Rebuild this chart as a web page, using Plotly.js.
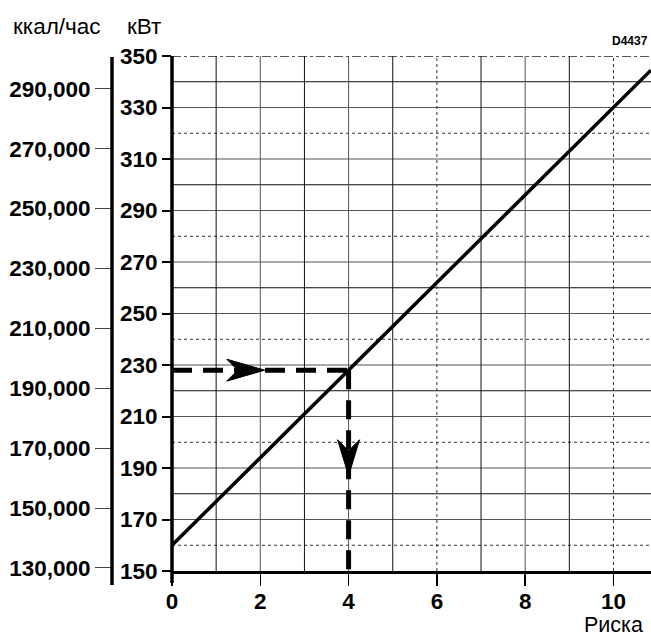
<!DOCTYPE html>
<html><head><meta charset="utf-8">
<script src="https://cdn.plot.ly/plotly-3.0.1.min.js"></script>
<style>html,body{margin:0;padding:0;background:#fff}</style>
</head><body><div id="chart" style="width:651px;height:637px"></div>
<script>
// ---- data ----
const risk = [0, 2, 4, 6, 8, 10, 10.85];
const powerKw = [160, 194, 228, 262, 296, 330, 344.5];
const readRisk = 4;
const readKw = 228;
const hArrowRisk = 2.1;   // tip of the right-pointing arrow
const vArrowKw = 187;     // tip of the down-pointing arrow
const kwTicks = [150, 170, 190, 210, 230, 250, 270, 290, 310, 330, 350];
const kcalTicks = [130000, 150000, 170000, 190000, 210000, 230000, 250000, 270000, 290000];
const kcalLabels = ['130,000', '150,000', '170,000', '190,000', '210,000', '230,000', '250,000', '270,000', '290,000'];
const riskTicks = [0, 2, 4, 6, 8, 10];
const kwGrid = [160, 170, 180, 190, 200, 210, 220, 230, 240, 250, 260, 270, 280, 290, 300, 310, 320, 330, 340];
const kwDotted = [160, 200, 240, 280, 320];
const riskGrid = [1, 2, 3, 4, 5, 6, 7, 8, 9, 10];
const riskDotted = [6, 10];
const KCAL_PER_KW = 859.845;

const W = 651, H = 637, T = 56, B = 66;
const PH = H - T - B;
const FONT = 'Liberation Sans, Arial, Helvetica, sans-serif';
const py = p => (H - B - p) / PH;   // pixel row -> paper y
const px = p => p / W;              // pixel col -> paper x
const x0px = 172;

const kwRange = [kwTicks[0], kwTicks[kwTicks.length - 1]];
const tickFont = {family: FONT, size: 22.5, color: '#000', weight: 'bold'};

const shapes = [];
kwGrid.forEach(v => {
  const dotted = kwDotted.includes(v);
  const labeled = kwTicks.includes(v);
  shapes.push({type: 'line', xref: 'paper', yref: 'y', x0: px(x0px), x1: 1, y0: v, y1: v,
    line: {color: dotted ? '#333' : (labeled ? '#555' : '#111'), width: 1, dash: dotted ? 'dot' : 'solid'}, layer: 'below'});
});
riskGrid.forEach(v => {
  const dotted = riskDotted.includes(v);
  const labeled = riskTicks.includes(v);
  shapes.push({type: 'line', xref: 'x', yref: 'paper', x0: v, x1: v, y0: 0, y1: 1,
    line: {color: dotted ? '#333' : (labeled ? '#555' : '#111'), width: 1, dash: dotted ? 'dot' : 'solid'}, layer: 'below'});
});
// top border (dash-dot)
shapes.push({type: 'line', xref: 'paper', yref: 'y', x0: px(x0px), x1: 1, y0: kwRange[1], y1: kwRange[1],
  line: {color: '#222', width: 1.5, dash: 'dashdot'}});
// kW axis line
shapes.push({type: 'line', xref: 'paper', yref: 'paper', x0: px(x0px), x1: px(x0px), y0: py(583), y1: py(56),
  line: {color: '#000', width: 3.5}});
// kcal axis line
shapes.push({type: 'line', xref: 'paper', yref: 'paper', x0: px(112), x1: px(112), y0: py(585), y1: py(57),
  line: {color: '#000', width: 3.5}});
// arrowheads (pixel-sized, anchored at data points)
shapes.push({type: 'path', xref: 'x', yref: 'y', xsizemode: 'pixel', ysizemode: 'pixel',
  xanchor: hArrowRisk, yanchor: readKw, path: 'M0,0 L-38,11 L-27,0 L-38,-11 Z',
  fillcolor: '#000', line: {color: '#000', width: 1}});
shapes.push({type: 'path', xref: 'x', yref: 'y', xsizemode: 'pixel', ysizemode: 'pixel',
  xanchor: readRisk, yanchor: vArrowKw, path: 'M0,0 L11,36 L0,25 L-11,36 Z',
  fillcolor: '#000', line: {color: '#000', width: 1}});

const traces = [
  {x: risk, y: powerKw, mode: 'lines', line: {color: '#000', width: 3.5}, hoverinfo: 'skip'},
  {x: [0, readRisk], y: [readKw, readKw], mode: 'lines', line: {color: '#000', width: 5, dash: '20px,11px'}, hoverinfo: 'skip'},
  {x: [readRisk, readRisk], y: [readKw, kwRange[0]], mode: 'lines', line: {color: '#000', width: 5, dash: '19px,11px'}, hoverinfo: 'skip'},
  {x: [0, 0], y: [kwRange[0] * KCAL_PER_KW, kwRange[1] * KCAL_PER_KW], yaxis: 'y2', mode: 'lines',
   line: {color: 'rgba(0,0,0,0)', width: 0}, hoverinfo: 'skip'}
];

const layout = {
  width: W, height: H,
  margin: {l: 0, r: 0, t: T, b: B, pad: 0},
  paper_bgcolor: '#fff', plot_bgcolor: '#fff',
  showlegend: false,
  xaxis: {domain: [px(x0px), 1], range: [0, 10.85], tickvals: riskTicks, ticks: 'outside', ticklen: 12,
    tickwidth: 1.5, tickcolor: '#000', showline: true, linewidth: 3, linecolor: '#000', ticklabelstandoff: -4,
    showgrid: false, zeroline: false, tickfont: tickFont, fixedrange: true},
  yaxis: {range: kwRange, tickvals: kwTicks, ticks: 'outside', ticklen: 9, tickwidth: 2, tickcolor: '#000',
    showline: false, showgrid: false, zeroline: false, tickfont: tickFont, fixedrange: true},
  yaxis2: {overlaying: 'y', anchor: 'free', position: px(112), side: 'left',
    range: [kwRange[0] * KCAL_PER_KW, kwRange[1] * KCAL_PER_KW],
    tickvals: kcalTicks, ticktext: kcalLabels, ticks: 'outside', ticklen: 17, tickwidth: 1, tickcolor: '#444',
    showline: false, showgrid: false, zeroline: false, tickfont: tickFont, fixedrange: true},
  shapes: shapes,
  annotations: [
    {text: 'ккал/час', xref: 'paper', yref: 'paper', x: px(11), y: py(26), xanchor: 'left', yanchor: 'middle',
     showarrow: false, font: {family: FONT, size: 22.5, color: '#000'}},
    {text: 'кВт', xref: 'paper', yref: 'paper', x: px(125), y: py(26), xanchor: 'left', yanchor: 'middle',
     showarrow: false, font: {family: FONT, size: 22.5, color: '#000'}},
    {text: 'D4437', xref: 'paper', yref: 'paper', x: px(650), y: py(41), xanchor: 'right', yanchor: 'middle',
     showarrow: false, font: {family: FONT, size: 12, color: '#000', weight: 'bold'}},
    {text: 'Риска', xref: 'paper', yref: 'paper', x: px(644), y: py(625), xanchor: 'right', yanchor: 'middle',
     showarrow: false, borderpad: 0, font: {family: FONT, size: 21.5, color: '#000'}}
  ]
};

Plotly.newPlot('chart', traces, layout, {staticPlot: true, displayModeBar: false});
</script>
</body></html>
